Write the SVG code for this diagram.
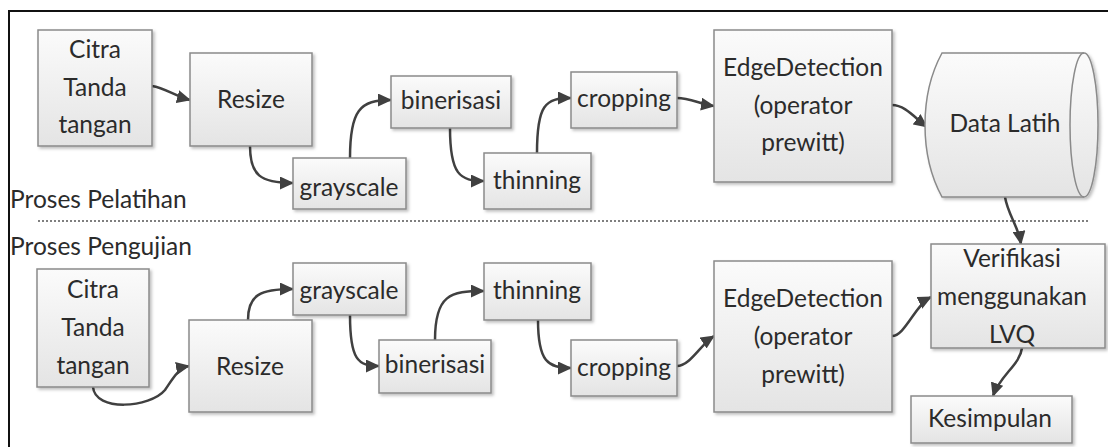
<svg xmlns="http://www.w3.org/2000/svg" width="1108" height="447" viewBox="0 0 1108 447">
<style>
.box{fill:url(#g);stroke:#8a8a8a;stroke-width:1.5;filter:url(#sh)}
.t{font-family:Lato,"Liberation Sans",sans-serif;font-size:24.5px;fill:#2b2b2b;text-anchor:middle}
.lbl{font-family:Lato,"Liberation Sans",sans-serif;font-size:24.5px;fill:#2b2b2b}
.c{fill:none;stroke:#404040;stroke-width:2.5;marker-end:url(#ah)}
</style>
<defs>
<linearGradient id="g" x1="0" y1="0" x2="0" y2="1">
<stop offset="0" stop-color="#fbfbfb"/>
<stop offset="1" stop-color="#e4e4e4"/>
</linearGradient>
<filter id="sh" x="-10%" y="-10%" width="130%" height="130%">
<feDropShadow dx="2" dy="2" stdDeviation="1.5" flood-color="#000" flood-opacity="0.25"/>
</filter>
<marker id="ah" markerUnits="userSpaceOnUse" markerWidth="15" markerHeight="13" refX="13" refY="6.5" orient="auto">
<path d="M0,0 L14,6.5 L0,13 z" fill="#404040"/>
</marker>
</defs>
<rect x="0" y="0" width="1108" height="447" fill="#fff"/>
<rect x="9" y="11" width="1110" height="450" fill="none" stroke="#111" stroke-width="2"/>

<text class="lbl" x="10" y="208">Proses Pelatihan</text>
<text class="lbl" x="10" y="255">Proses Pengujian</text>
<line x1="38" y1="221" x2="1088" y2="221" stroke="#555" stroke-width="1.5" stroke-dasharray="2 2"/>

<g id="connectors">
<path class="c" d="M152,86 C165,88 175,96 190,100"/>
<path class="c" d="M250,146 C250,175 260,183 293,183"/>
<path class="c" d="M350,158 C350,110 360,100 391,100"/>
<path class="c" d="M450,128 C450,175 460,181 484,181"/>
<path class="c" d="M537,153 C537,105 545,98 571,98"/>
<path class="c" d="M677,98 C690,98 700,104 714,106"/>
<path class="c" d="M892,105 C905,105 915,118 927,127"/>
<path class="c" d="M1005,197 C1008,215 1018,225 1021,244"/>
<path class="c" d="M93,387 C95,412 150,408 165,390 C172,380 178,368 189,366"/>
<path class="c" d="M248,320 C248,295 260,289 293,289"/>
<path class="c" d="M350,315 C350,360 358,366 379,366"/>
<path class="c" d="M435,340 C435,295 450,291 484,291"/>
<path class="c" d="M538,320 C538,362 548,368 571,368"/>
<path class="c" d="M677,366 C690,366 700,345 714,336"/>
<path class="c" d="M892,336 C905,336 915,305 931,297"/>
<path class="c" d="M1022,348 C1020,365 1000,375 993,396"/>
</g>

<g id="t-citra">
<rect class="box" x="38" y="30" width="114" height="116"/>
<text class="t" x="95" y="58">Citra</text>
<text class="t" x="95" y="96">Tanda</text>
<text class="t" x="95" y="133">tangan</text>
</g>
<g id="t-resize">
<rect class="box" x="190" y="53" width="122" height="93"/>
<text class="t" x="251" y="108">Resize</text>
</g>
<g id="t-grayscale">
<rect class="box" x="293" y="158" width="113" height="51"/>
<text class="t" x="349" y="196">grayscale</text>
</g>
<g id="t-binerisasi">
<rect class="box" x="391" y="76" width="120" height="52"/>
<text class="t" x="451" y="109">binerisasi</text>
</g>
<g id="t-thinning">
<rect class="box" x="484" y="153" width="107" height="56"/>
<text class="t" x="537" y="189">thinning</text>
</g>
<g id="t-cropping">
<rect class="box" x="571" y="72" width="106" height="56"/>
<text class="t" x="624" y="107">cropping</text>
</g>
<g id="t-edge">
<rect class="box" x="714" y="30" width="178" height="152"/>
<text class="t" x="803" y="76">EdgeDetection</text>
<text class="t" x="803" y="114">(operator</text>
<text class="t" x="803" y="151">prewitt)</text>
</g>
<g id="t-datalatih">
<path class="box" d="M942,53 L1084,53 A14,72 0 0 1 1084,197 L942,197 C930,175 925,150 925,125 C925,100 930,75 942,53 Z"/>
<path d="M1084,53 A14,72 0 0 0 1084,197" fill="none" stroke="#8a8a8a" stroke-width="1.5"/>
<text class="t" x="1005" y="132">Data Latih</text>
</g>

<g id="b-citra">
<rect class="box" x="37" y="269" width="112" height="118"/>
<text class="t" x="93" y="298">Citra</text>
<text class="t" x="93" y="336">Tanda</text>
<text class="t" x="93" y="374">tangan</text>
</g>
<g id="b-resize">
<rect class="box" x="189" y="320" width="123" height="92"/>
<text class="t" x="250" y="375">Resize</text>
</g>
<g id="b-grayscale">
<rect class="box" x="293" y="263" width="113" height="52"/>
<text class="t" x="349" y="299">grayscale</text>
</g>
<g id="b-binerisasi">
<rect class="box" x="379" y="340" width="112" height="53"/>
<text class="t" x="435" y="373">binerisasi</text>
</g>
<g id="b-thinning">
<rect class="box" x="484" y="263" width="107" height="57"/>
<text class="t" x="537" y="299">thinning</text>
</g>
<g id="b-cropping">
<rect class="box" x="571" y="340" width="106" height="56"/>
<text class="t" x="624" y="376">cropping</text>
</g>
<g id="b-edge">
<rect class="box" x="714" y="261" width="178" height="151"/>
<text class="t" x="803" y="307">EdgeDetection</text>
<text class="t" x="803" y="345">(operator</text>
<text class="t" x="803" y="383">prewitt)</text>
</g>
<g id="b-verifikasi">
<rect class="box" x="931" y="244" width="174" height="104"/>
<text class="t" x="1012" y="267">Verifikasi</text>
<text class="t" x="1012" y="305">menggunakan</text>
<text class="t" x="1012" y="343">LVQ</text>
</g>
<g id="b-kesimpulan">
<rect class="box" x="911" y="396" width="161" height="47"/>
<text class="t" x="990" y="427">Kesimpulan</text>
</g>
</svg>
